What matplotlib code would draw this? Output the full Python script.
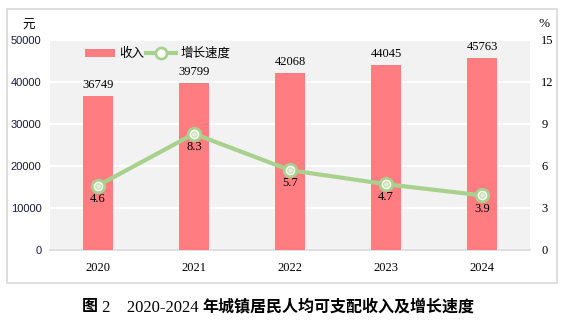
import matplotlib
matplotlib.use("Agg")
import matplotlib.pyplot as plt
from matplotlib.patches import Patch, Rectangle
from matplotlib.lines import Line2D
from matplotlib.offsetbox import TextArea, HPacker, AnnotationBbox

# Per-capita disposable income of urban residents and its growth rate
years = ["2020", "2021", "2022", "2023", "2024"]
income = [36749, 39799, 42068, 44045, 45763]
growth = [4.6, 8.3, 5.7, 4.7, 3.9]

bar_color = "#ff7c80"
line_color = "#a9d18e"
serif = "Liberation Serif"
cjk = "Noto Sans CJK SC"

fig = plt.figure(figsize=(5.72, 3.27), dpi=100)
ax = fig.add_axes([0.0874, 0.2355, 0.8392, 0.6422])
ax2 = ax.twinx()

# outer frame around the chart
fig.patches.append(Rectangle((0.0122, 0.1346), 0.9616, 0.8379, transform=fig.transFigure,
                             fill=False, edgecolor="#d9d9d9", linewidth=1.2))

x = list(range(len(years)))
ax.set_facecolor("#f2f2f2")
ax.bar(x, income, width=0.31, color=bar_color, zorder=3)
for xi, v in zip(x, income):
    ax.text(xi, v + 2600, str(v), ha="center", va="center", fontsize=9,
            family=serif, zorder=5)

ax.set_ylim(0, 50000)
ax.set_yticks(range(0, 50001, 10000))
ax.set_xlim(-0.5, 4.5)
ax.set_xticks(x)
ax.set_xticklabels(years, family=serif, fontsize=9)
ax.grid(axis="y", color="white", linewidth=1.6, zorder=1)
ax.set_axisbelow(True)
for s in ["top", "left", "right"]:
    ax.spines[s].set_visible(False)
ax.spines["bottom"].set_color("#d9d9d9")
ax.spines["bottom"].set_linewidth(1.2)
ax.tick_params(axis="both", length=0)
ax.tick_params(axis="x", pad=9)
ax.tick_params(axis="y", pad=6, labelsize=8, labelcolor="#1a1a40")
for lab in ax.get_yticklabels():
    lab.set_family("Liberation Sans")

ax2.plot(x, growth, color=line_color, linewidth=3, marker="o", markersize=9,
         markerfacecolor="white", markeredgecolor=line_color, markeredgewidth=2,
         zorder=4)
ax2.plot(x, growth, linestyle="none", marker="o", markersize=4,
         markerfacecolor="#e2f0d9", markeredgecolor="#c5e0b4", markeredgewidth=0.8,
         zorder=5)
for xi, v in zip(x, growth):
    ax2.text(xi, v - 0.95, f"{v}", ha="center", va="center", fontsize=9,
             family=serif, zorder=6)
ax2.set_ylim(0, 15)
ax2.set_yticks(range(0, 16, 3))
ax2.tick_params(axis="y", length=0, pad=8, labelsize=9)
for lab in ax2.get_yticklabels():
    lab.set_family(serif)
for s in ["top", "left", "right", "bottom"]:
    ax2.spines[s].set_visible(False)

fig.text(29 / 572, 1 - 25 / 327, "元", family=cjk, fontsize=9, ha="center", va="center")
fig.text(544 / 572, 1 - 24 / 327, "%", family=serif, fontsize=9.5, ha="center", va="center")

handles = [
    Patch(facecolor=bar_color, edgecolor="none"),
    Line2D([], [], color=line_color, linewidth=3, marker="o", markersize=8,
           markerfacecolor="white", markeredgecolor=line_color, markeredgewidth=2),
]
leg = ax2.legend(handles, ["收入", "增长速度"], loc="upper left", ncol=2,
                 bbox_to_anchor=(0.05, 1.02), frameon=False,
                 prop={"family": cjk, "size": 9}, handlelength=2.4,
                 handleheight=0.6, handletextpad=0.3, columnspacing=0.2)

# caption under the chart, mixing bold CJK and serif digits
parts = [
    TextArea("图", textprops=dict(family=cjk, fontsize=11.5, weight="bold")),
    TextArea(" 2    2020-2024 ", textprops=dict(family=serif, fontsize=12)),
    TextArea("年城镇居民人均可支配收入及增长速度",
             textprops=dict(family=cjk, fontsize=11.5, weight="bold")),
]
box = HPacker(children=parts, align="baseline", pad=0, sep=0)
ab = AnnotationBbox(box, (278 / 572, 1 - 307 / 327), xycoords="figure fraction",
                    frameon=False, box_alignment=(0.5, 0.5))
fig.add_artist(ab)

fig.savefig("out.png", dpi=100)
